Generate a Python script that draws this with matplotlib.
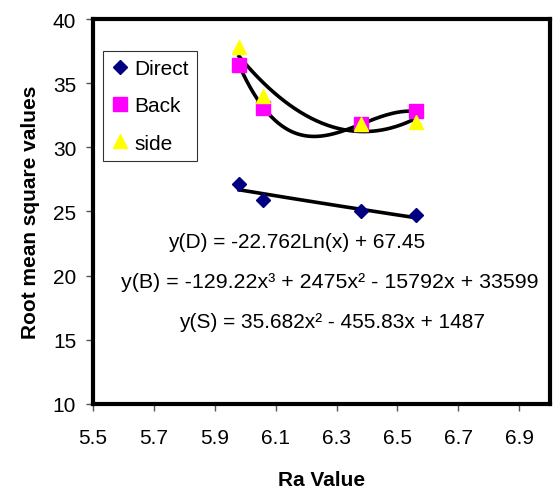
import numpy as np
import matplotlib
matplotlib.use("Agg")
import matplotlib.pyplot as plt

plt.rcParams['font.family'] = ['Liberation Sans', 'DejaVu Sans']

# data
ra = [5.98, 6.06, 6.38, 6.56]
direct = [27.15, 25.9, 25.0, 24.7]
back = [36.4, 33.1, 31.8, 32.8]
side = [37.8, 34.0, 31.8, 32.0]

xticks = [5.5, 5.7, 5.9, 6.1, 6.3, 6.5, 6.7, 6.9]
yticks = [10, 15, 20, 25, 30, 35, 40]

eq_d = "y(D) = -22.762Ln(x) + 67.45"
eq_b = "y(B) = -129.22x³ + 2475x² - 15792x + 33599"
eq_s = "y(S) = 35.682x² - 455.83x + 1487"

fs = 15

fig = plt.figure(figsize=(5.53, 4.89), dpi=100)
ax = fig.add_axes([0.168, 0.172, 0.826, 0.787])

x = np.array(ra)
xs = np.linspace(x.min(), x.max(), 200)

# trendlines (like excel): log for direct, cubic for back, quadratic for side
a, b = np.polyfit(np.log(x), direct, 1)
ax.plot(xs, a * np.log(xs) + b, color='black', lw=2.6, zorder=2)
ax.plot(xs, np.polyval(np.polyfit(x, back, 3), xs), color='black', lw=2.6, zorder=2)
ax.plot(xs, np.polyval(np.polyfit(x, side, 2), xs), color='black', lw=2.6, zorder=2)

ax.plot(ra, direct, 'D', color='#000080', ms=7, ls='none', label='Direct', zorder=3)
ax.plot(ra, back, 's', color='#FF00FF', ms=9.5, ls='none', label='Back', zorder=3)
ax.plot(ra, side, '^', color='#FFFF00', ms=10, ls='none', label='side', zorder=3)

ax.set_xlim(5.5, 7.0)
ax.set_ylim(10, 40)
ax.set_xticks(xticks)
ax.set_yticks(yticks)
ax.set_xticklabels([f"{t:.1f}" for t in xticks])
ax.tick_params(direction='out', length=5, width=1, color='#555555', labelsize=fs)
ax.tick_params(axis='y', pad=7)
ax.tick_params(axis='x', pad=12)
for s in ax.spines.values():
    s.set_linewidth(3)
    s.set_color('black')

ax.set_xlabel("Ra Value", fontsize=fs, fontweight='bold', labelpad=17)
ax.set_ylabel("Root mean square values", fontsize=fs, fontweight='bold', labelpad=9)

ax.text(297 / 553, 1 - 243 / 489, eq_d, transform=fig.transFigure, ha='center', va='center', fontsize=fs)
ax.text(330 / 553, 1 - 283 / 489, eq_b, transform=fig.transFigure, ha='center', va='center', fontsize=15.4)
ax.text(332 / 553, 1 - 322 / 489, eq_s, transform=fig.transFigure, ha='center', va='center', fontsize=fs)

leg = ax.legend(loc='upper left', bbox_to_anchor=(0.022, 0.917), fontsize=fs,
                frameon=True, fancybox=False, edgecolor='black', handlelength=0.8,
                handletextpad=0.3, labelspacing=0.87, borderpad=0.4, borderaxespad=0,
                numpoints=1)
leg.get_frame().set_linewidth(0.8)

fig.savefig("out.png", dpi=100)
